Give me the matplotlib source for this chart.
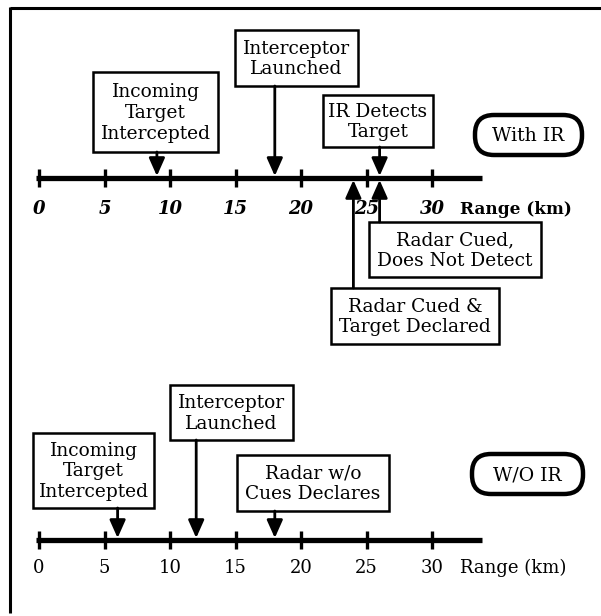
import matplotlib
matplotlib.use("Agg")
import matplotlib.pyplot as plt
from matplotlib.patches import Rectangle, FancyBboxPatch

# ── data ──────────────────────────────────────────────────────────────────────
tick_km = [0, 5, 10, 15, 20, 25, 30]
axis_label = "Range (km)"

with_ir_title = "With IR"
with_ir_above = ["Incoming\nTarget\nIntercepted", "Interceptor\nLaunched", "IR Detects\nTarget"]
with_ir_above_km = [9, 18, 26]
with_ir_below = ["Radar Cued,\nDoes Not Detect", "Radar Cued &\nTarget Declared"]
with_ir_below_km = [26, 24]

wo_ir_title = "W/O IR"
wo_ir_above = ["Incoming\nTarget\nIntercepted", "Interceptor\nLaunched", "Radar w/o\nCues Declares"]
wo_ir_above_km = [6, 12, 18]

# ── layout (pixels of the 601x616 canvas) ─────────────────────────────────────
W, H = 601, 616
KM0_PX = 39
PX_PER_KM = 13.1


def px_to_km(px):
    return (px - KM0_PX) / PX_PER_KM


# box: (left, right, top, bottom) in px
top_boxes_above = [(93, 218, 72, 152), (235, 358, 30, 86), (323, 433, 95, 147)]
top_boxes_below = [(369, 541, 222, 277), (331, 499, 288, 344)]
bot_boxes_above = [(33, 154, 433, 508), (170, 293, 385, 440), (237, 389, 455, 511)]

SERIF = "DejaVu Serif"
BOX_FS = 13.4

fig = plt.figure(figsize=(W / 100, H / 100), dpi=100)
ax = fig.add_axes([0, 0, 1, 1])
ax.set_xlim(px_to_km(0), px_to_km(W))
ax.set_ylim(H, 0)
ax.axis("off")


def draw_axis(y, label_y, bold):
    ax.plot([px_to_km(36), px_to_km(482)], [y, y], color="black", lw=3.8,
            solid_capstyle="butt", zorder=3)
    ax.vlines(tick_km, y - 9, y + 9, color="black", lw=2.4, zorder=3)
    kw = dict(family=SERIF, fontsize=13, va="center", zorder=2)
    if bold:
        kw.update(fontweight="bold", style="italic")
    for t in tick_km:
        ax.text(t, label_y, str(t), ha="center", **kw)
    kw.pop("style", None)
    if bold:
        kw["fontsize"] = 12.2
    ax.text(px_to_km(460), label_y, axis_label, ha="left", **kw)


def draw_box(box, text):
    l, r, t, b = box
    ax.add_patch(Rectangle((px_to_km(l), t), px_to_km(r) - px_to_km(l), b - t,
                           fill=True, facecolor="white", edgecolor="black",
                           lw=1.8, zorder=4))
    ax.text(px_to_km((l + r) / 2), (t + b) / 2 + 1, text, ha="center", va="center",
            family=SERIF, fontsize=BOX_FS, linespacing=1.2, zorder=5)


def draw_arrow(km, y_from, y_to):
    ax.annotate("", xy=(km, y_to), xytext=(km, y_from),
                arrowprops=dict(arrowstyle="-|>,head_length=0.9,head_width=0.4",
                                color="black", lw=2.0, mutation_scale=12,
                                shrinkA=0, shrinkB=0), zorder=6)


def draw_badge(l, r, t, b, text):
    w = px_to_km(r) - px_to_km(l)
    ax.add_patch(FancyBboxPatch((px_to_km(l), t), w, b - t,
                                boxstyle="round,pad=0,rounding_size=%.3f" % (19 / PX_PER_KM),
                                mutation_aspect=PX_PER_KM, facecolor="white",
                                edgecolor="black", lw=3.2, zorder=4))
    ax.text(px_to_km((l + r) / 2), (t + b) / 2 + 1, text, ha="center", va="center",
            family=SERIF, fontsize=13.6, zorder=5)


# ── With IR ───────────────────────────────────────────────────────────────────
TOP_Y = 178
draw_axis(TOP_Y, 209, bold=True)
for box, txt, km in zip(top_boxes_above, with_ir_above, with_ir_above_km):
    draw_box(box, txt)
    draw_arrow(km, box[3], TOP_Y - 2)
for box, txt, km in zip(top_boxes_below, with_ir_below, with_ir_below_km):
    draw_box(box, txt)
    draw_arrow(km, box[2], TOP_Y + 2)
draw_badge(475, 582, 115, 155, with_ir_title)

# ── Without IR ────────────────────────────────────────────────────────────────
BOT_Y = 540
draw_axis(BOT_Y, 568, bold=False)
for box, txt, km in zip(bot_boxes_above, wo_ir_above, wo_ir_above_km):
    draw_box(box, txt)
    draw_arrow(km, box[3], BOT_Y - 2)
draw_badge(472, 583, 454, 494, wo_ir_title)

# outer frame (top and left edges only)
ax.plot([10 / W, 1], [1 - 8 / H, 1 - 8 / H], transform=ax.transAxes,
        color="black", lw=2.2, solid_capstyle="butt")
ax.plot([10 / W, 10 / W], [1 - 7 / H, 1 - 613 / H], transform=ax.transAxes,
        color="black", lw=2.2, solid_capstyle="butt")

fig.savefig("out.png", dpi=100)
